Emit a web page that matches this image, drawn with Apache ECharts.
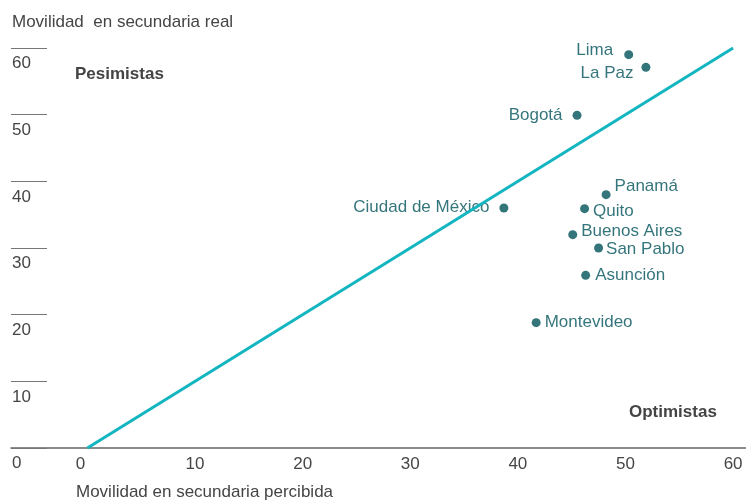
<!DOCTYPE html>
<html>
<head>
<meta charset="utf-8">
<script src="https://cdn.jsdelivr.net/npm/echarts@6/dist/echarts.min.js"></script>
<style>html,body{margin:0;padding:0;background:#fff}#c{width:746px;height:501px}</style>
</head>
<body>
<div id="c"></div>
<script>
const cities = ['Lima','La Paz','Bogotá','Ciudad de México','Panamá','Quito','Buenos Aires','San Pablo','Asunción','Montevideo'];
const perceived = [50.3, 51.9, 45.5, 38.7, 48.2, 46.2, 45.1, 47.5, 46.3, 41.7];
const actual = [59.0, 57.1, 49.9, 36.0, 38.0, 35.9, 32.0, 30.0, 25.9, 18.8];
const xTicks = [0, 10, 20, 30, 40, 50, 60];
const yTicks = [0, 10, 20, 30, 40, 50, 60];
const diagonal = [[0, 0], [60, 60]];

// label placement style per city (not data)
const labelStyle = {
  'Lima': {position: 'left', distance: 11, offset: [0, -4]},
  'La Paz': {position: 'left', distance: 8, offset: [0, 6]},
  'Bogotá': {position: 'left', distance: 10, offset: [0, 0]},
  'Ciudad de México': {position: 'left', distance: 10, offset: [0, -1]},
  'Panamá': {position: 'right', distance: 4, offset: [0, -8]},
  'Quito': {position: 'right', distance: 4, offset: [0, 3]},
  'Buenos Aires': {position: 'right', distance: 4, offset: [0, -3]},
  'San Pablo': {position: 'right', distance: 3, offset: [0, 1]},
  'Asunción': {position: 'right', distance: 5, offset: [0, 0]},
  'Montevideo': {position: 'right', distance: 4, offset: [0, 0]}
};

const FONT = 'Liberation Sans, Arial, sans-serif';
const TEAL = '#00535a';
const LINE = '#12b5c0';
const GRAY = '#454545';

const chart = echarts.init(document.getElementById('c'));
chart.setOption({
  animation: false,
  grid: {left: 11, right: 0, top: 48, bottom: 53, containLabel: false},
  xAxis: {
    type: 'value', min: -7.1, max: 61.2,
    splitLine: {show: false},
    axisTick: {show: false},
    axisLine: {show: true, onZero: false, lineStyle: {color: '#666', width: 1.5}},
    axisLabel: {
      customValues: xTicks, color: GRAY, fontSize: 17, fontFamily: FONT, margin: 8,
      formatter: v => v === 0 ? '{z|0}' : String(v),
      rich: {z: {padding: [0, 14, 0, 0], color: GRAY, fontSize: 17, fontFamily: FONT}}
    }
  },
  yAxis: {
    type: 'value', min: 0, max: 60, interval: 10,
    splitLine: {show: false},
    axisLine: {show: false, onZero: false},
    axisTick: {show: true, inside: true, length: 36, lineStyle: {color: '#777', width: 1}},
    axisLabel: {
      inside: true, margin: 1, color: GRAY, fontSize: 17, fontFamily: FONT,
      verticalAlign: 'top', padding: [7, 0, 0, 0],
      customValues: yTicks
    }
  },
  graphic: [
    {type: 'text', left: 12, top: 14, style: {text: 'Movilidad  en secundaria real', fill: GRAY, font: '17px ' + FONT}},
    {type: 'text', left: 76, top: 484, style: {text: 'Movilidad en secundaria percibida', fill: GRAY, font: '17px ' + FONT}},
    {type: 'text', left: 75, top: 66, style: {text: 'Pesimistas', fill: '#444', font: 'bold 17px ' + FONT}},
    {type: 'text', left: 629, top: 404, style: {text: 'Optimistas', fill: '#444', font: 'bold 17px ' + FONT}}
  ],
  series: [
    {
      type: 'scatter', z: 2, symbolSize: 9,
      itemStyle: {color: TEAL},
      label: {show: true, color: TEAL, fontSize: 17, fontFamily: FONT, formatter: p => p.data.name},
      data: cities.map((c, i) => ({
        name: c, value: [perceived[i], actual[i]],
        label: labelStyle[c]
      }))
    },
    {
      type: 'line', z: 5, symbol: 'none', silent: true,
      lineStyle: {color: LINE, width: 3},
      data: diagonal
    }
  ]
});
</script>
</body>
</html>
